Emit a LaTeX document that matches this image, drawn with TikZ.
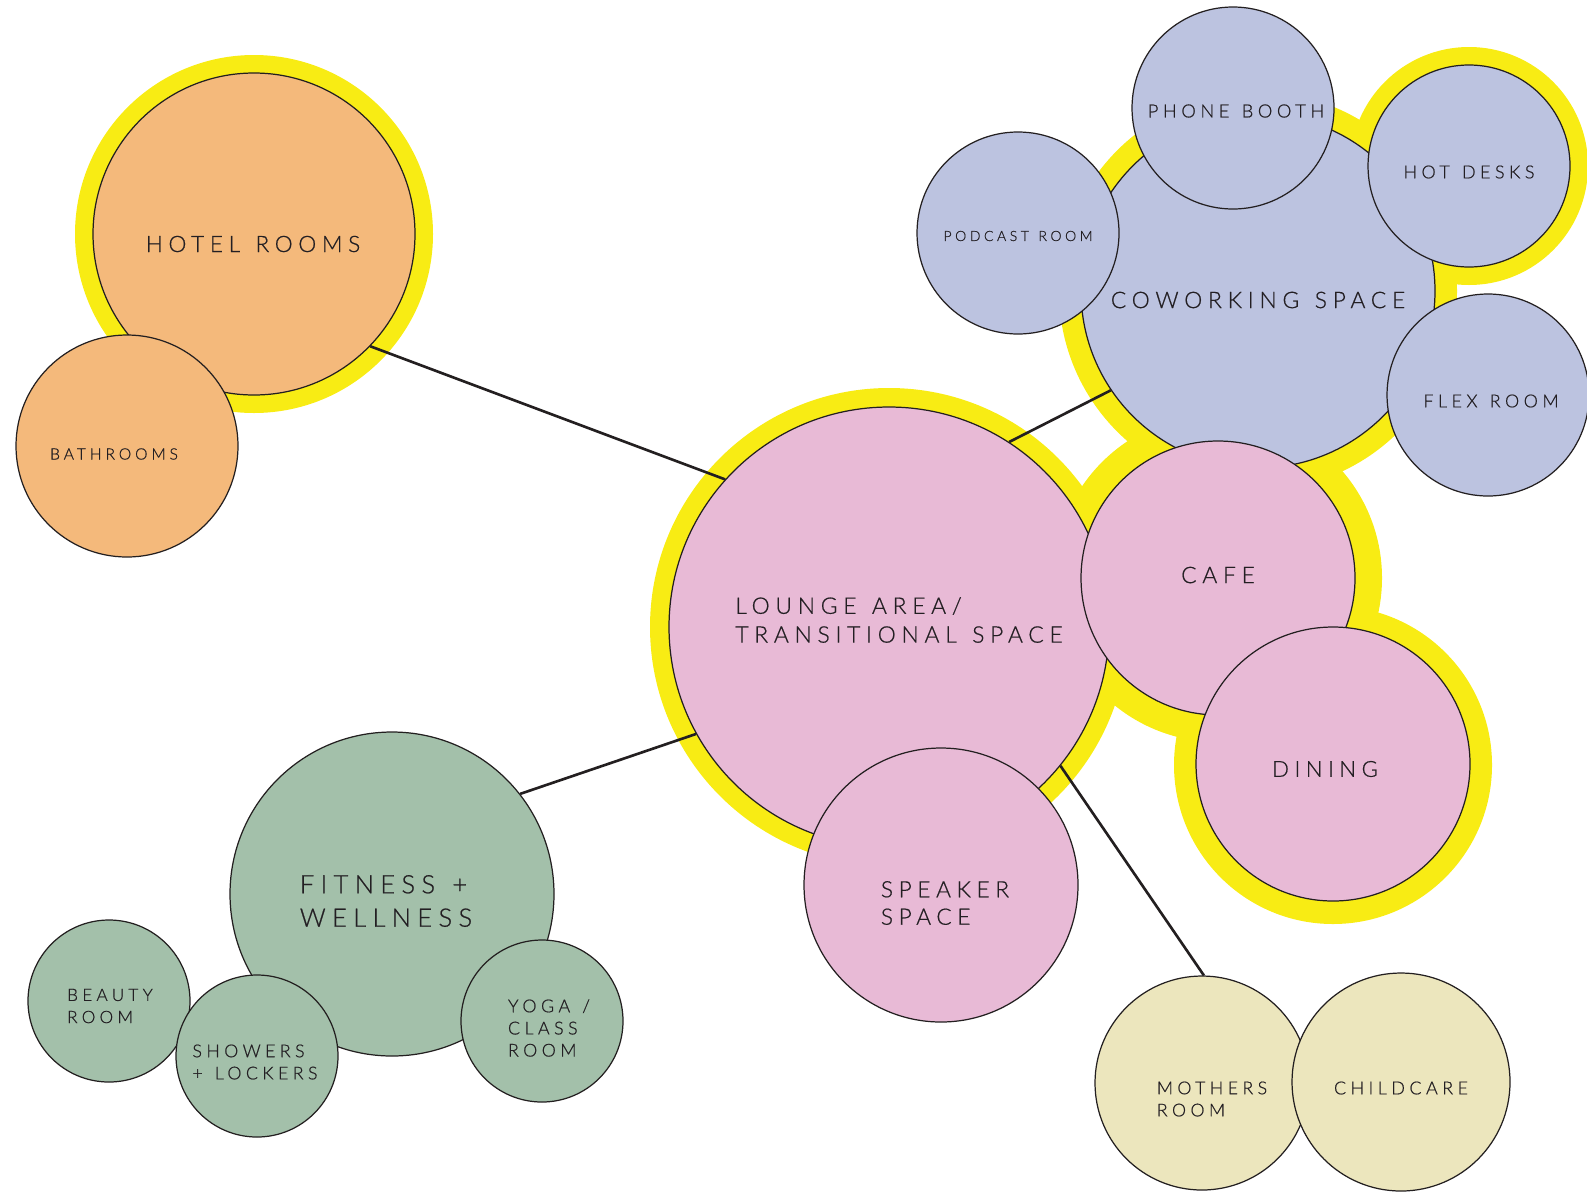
\documentclass[tikz,border=0pt]{standalone}
\usepackage{fontspec}
\newfontfamily\roomfont[LetterSpace=25, WordSpace=1.3, FakeBold=0.6]{Lato Light}
\definecolor{hiyellow}{RGB}{248,236,20}
\definecolor{hotelc}{RGB}{244,185,123}
\definecolor{coworkc}{RGB}{188,195,224}
\definecolor{loungec}{RGB}{232,186,214}
\definecolor{fitc}{RGB}{163,192,170}
\definecolor{familyc}{RGB}{236,230,189}
\definecolor{ink}{RGB}{35,31,32}
\definecolor{txtgray}{RGB}{35,31,35}

\begin{document}
\begin{tikzpicture}[x=0.1mm, y=-0.1mm,
    room/.style={circle, draw=ink, line width=0.35pt, inner sep=0pt, minimum size=#1*0.2mm},
    txt/.style 2 args={font=\roomfont\fontsize{#1}{#2}\selectfont, text=txtgray, align=left, inner sep=0pt},
    link/.style={draw=ink, line width=0.75pt}]
\useasboundingbox (0,0) rectangle (1587,1194);

% yellow halos
\foreach \x/\y/\r in {254/234/179, 1469/166/119, 1258/291/199, 889/627/239, 1218/578/164, 1333/765/159}
  \fill[hiyellow] (\x,\y) circle (\r);

% hotel
\node[room=161, fill=hotelc] (hotel) at (254,234) {};
\node[room=111, fill=hotelc] (bath) at (127,446) {};

% coworking
\node[room=177, fill=coworkc] (cowork) at (1258,291) {};
\node[room=101, fill=coworkc] (podcast) at (1018,233) {};
\node[room=101, fill=coworkc] (phone) at (1233,108) {};
\node[room=101, fill=coworkc] (hotdesk) at (1469,166) {};
\node[room=101, fill=coworkc] (flex) at (1488,395) {};

% lounge + food
\node[room=220, fill=loungec] (lounge) at (889,627) {};
\node[room=137, fill=loungec] (cafe) at (1218,578) {};
\node[room=137, fill=loungec] (dining) at (1333,764) {};
\node[room=137, fill=loungec] (speaker) at (941,885) {};

% fitness
\node[room=162, fill=fitc] (fitness) at (392,894) {};
\node[room=81, fill=fitc] (beauty) at (109,1001) {};
\node[room=81, fill=fitc] (showers) at (257,1056) {};
\node[room=81, fill=fitc] (yoga) at (542,1021) {};

% family
\node[room=107, fill=familyc] (mothers) at (1202,1083) {};
\node[room=109, fill=familyc] (childcare) at (1401,1082) {};

% labels
\node[txt={6.44}{8}] (hotel-t) at (253,244) {HOTEL ROOMS};
\node[txt={4.45}{6}] (bath-t) at (114,454) {BATHROOMS};
\node[txt={6.5}{8}] (cowork-t) at (1258,300) {COWORKING SPACE};
\node[txt={4}{5}] (podcast-t) at (1018,236) {PODCAST ROOM};
\node[txt={5.2}{6}] (phone-t) at (1236,111) {PHONE BOOTH};
\node[txt={5.1}{6}] (hotdesk-t) at (1469,172) {HOT DESKS};
\node[txt={5.1}{6}] (flex-t) at (1491,401) {FLEX ROOM};
\node[txt={6.5}{8.2}] (lounge-t) at (899,620) {LOUNGE AREA/\\TRANSITIONAL SPACE};
\node[txt={6.5}{8}] (cafe-t) at (1218,575) {CAFE};
\node[txt={6.3}{8}] (dining-t) at (1325,769) {DINING};
\node[txt={6.43}{7.8}] (speaker-t) at (945,903) {SPEAKER\\SPACE};
\node[txt={7.25}{9.5}] (fitness-t) at (386,901) {FITNESS +\\WELLNESS};
\node[txt={4.87}{6.3}] (beauty-t) at (110,1006) {BEAUTY\\ROOM};
\node[txt={5.05}{6.3}] (showers-t) at (255,1062) {SHOWERS\\+ LOCKERS};
\node[txt={5.07}{6.3}] (yoga-t) at (549,1028) {YOGA /\\CLASS\\ROOM};
\node[txt={5.05}{6.3}] (mothers-t) at (1212,1099) {MOTHERS\\ROOM};
\node[txt={5.1}{6}] (childcare-t) at (1401,1088) {CHILDCARE};

% connectors
\draw[link] (hotel.-44.5) -- (lounge.138);
\draw[link] (lounge.57.7) -- (cowork.-146.4);
\draw[link] (fitness.38.7) -- (lounge.209.6);
\draw[link] (lounge.-39.8) -- (mothers.89);
\end{tikzpicture}
\end{document}
